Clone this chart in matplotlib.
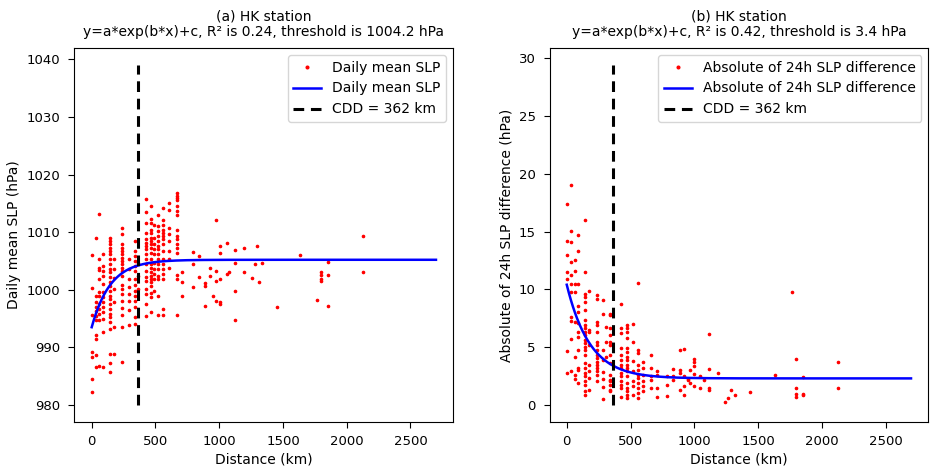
import numpy as np
import matplotlib
matplotlib.use("Agg")
import matplotlib.pyplot as plt

# ---------------- data ----------------
# Panel (a): distance (km) vs daily mean SLP (hPa)
dist_a = ([0]*7 + [31]*11 + [61]*12 + [92]*13 + [140]*25 + [172]*7 + [235]*20 + [291]*8
          + [338]*14 + [362]*3 + [426]*18 + [463]*21 + [489]*10 + [521]*15 + [563]*16 + [608]*8
          + [669]*16 + [706]*3 + [793]*3 + [841]*2 + [891]*3 + [926]*2 + [955] + [973]*4
          + [1005]*5 + [1063]*2 + [1079] + [1127]*4 + [1196]*2 + [1256] + [1283] + [1296]
          + [1309] + [1336] + [1450] + [1630] + [1765] + [1795]*4 + [1855]*3 + [2130]*2)
slp_a = [
    1005.98, 1000.25, 995.55, 989.24, 988.38, 984.43, 982.25,
    1008.90, 998.99, 997.95, 997.09, 996.23, 995.43, 994.69, 992.22, 991.42, 988.67, 986.55,
    1013.14, 1005.29, 1003.86, 1003.45, 1001.85, 999.56, 998.99, 997.55, 996.69, 995.83, 994.69, 986.84,
    1006.15, 1004.14, 1003.28, 1002.42, 1000.99, 999.56, 998.70, 997.84, 996.98, 996.12, 994.97, 992.68, 986.67,
    1009.01, 1008.44, 1007.87, 1007.29, 1006.72, 1006.15, 1005.29, 1004.43, 1003.57, 1003.00, 1002.14, 1001.28,
    1000.70, 999.84, 998.99, 998.41, 997.55, 996.69, 995.83, 995.26, 994.40, 993.25, 988.79, 987.24, 985.81,
    1005.29, 1003.57, 1001.96, 1000.13, 997.84, 993.54, 988.79,
    1010.73, 1009.76, 1007.87, 1007.29, 1006.72, 1006.15, 1005.58, 1005.00, 1004.43, 1003.86, 1003.28, 1002.42,
    1000.82, 1000.13, 999.27, 998.13, 996.81, 995.55, 993.54, 987.41,
    1005.29, 1003.57, 1001.85, 1000.42, 999.27, 998.13, 996.41, 993.83,
    1008.38, 1006.72, 1005.86, 1005.00, 1004.14, 1003.28, 1001.85, 1000.82, 999.84, 998.99, 998.13, 996.98,
    995.26, 994.00,
    1004.72, 1002.42, 1000.13,
    1015.77, 1013.42, 1011.59, 1009.87, 1008.73, 1008.15, 1007.58, 1007.01, 1006.15, 1005.29, 1004.43, 1003.28,
    1002.14, 1001.56, 1000.13, 999.27, 997.55, 995.43,
    1014.57, 1012.28, 1011.59, 1010.45, 1009.87, 1009.01, 1008.44, 1007.87, 1007.29, 1006.43, 1005.29, 1004.43,
    1003.86, 1003.00, 1002.42, 1001.85, 1001.28, 1000.70, 999.44, 998.70, 996.12,
    1011.30, 1009.01, 1007.87, 1007.01, 1006.15, 1004.72, 1003.57, 1002.71, 1001.85, 999.84,
    1013.02, 1011.02, 1010.16, 1009.30, 1008.44, 1007.58, 1007.01, 1006.15, 1005.29, 1004.43, 1003.57, 1002.42,
    1001.85, 998.99, 995.55,
    1014.17, 1012.16, 1011.30, 1010.45, 1009.87, 1009.30, 1008.73, 1007.87, 1006.72, 1005.29, 1004.43, 1003.57,
    1002.71, 1001.85, 996.69, 995.66,
    1015.03, 1013.88, 1010.73, 1009.59, 1008.44, 1006.72, 1005.29, 1003.86,
    1016.75, 1016.29, 1015.89, 1015.49, 1014.57, 1013.60, 1013.02, 1010.45, 1009.30, 1008.73, 1007.87, 1007.29,
    1006.43, 1002.59, 1001.85, 995.55,
    1003.00, 1001.28, 998.87,
    1006.61, 1004.43, 1000.53,
    1005.86, 1002.14,
    1001.16, 1000.70, 997.15,
    1003.86, 1002.31,
    998.99,
    1012.16, 1003.34, 1001.56, 998.01,
    1007.58, 1006.43, 1001.85, 997.84, 997.55,
    1008.15, 1002.71,
    1003.00,
    1006.84, 1004.72, 999.73, 994.80,
    1007.29, 1003.11,
    1001.96, 1004.43, 1007.58, 1001.28, 1004.60, 996.98,
    1006.1, 998.3,
    1003.0, 1002.6, 1001.9, 1001.6,
    1004.8, 1002.5, 997.2,
    1009.3, 1003.0,
]

# Panel (b): distance (km) vs absolute 24h SLP difference (hPa)
dist_b = ([0]*7 + [34]*11 + [65]*8 + [92]*12 + [144]*24 + [175]*8 + [235]*16 + [287]*8 + [305]*3
          + [340]*14 + [423]*14 + [470]*17 + [517]*7 + [562]*11 + [601]*6 + [658]*5 + [706]*4
          + [784]*3 + [836]*3 + [889]*4 + [920]*4 + [954]*2 + [967]*2 + [998]*5 + [1045]*2 + [1077]
          + [1119]*4 + [1184] + [1242] + [1268] + [1286] + [1320] + [1438] + [1630] + [1765]
          + [1795]*4 + [1855]*3 + [2130]*2)
dslp_b = [
    17.37, 14.22, 13.00, 11.50, 10.87, 4.67, 2.75,
    19.03, 15.02, 14.13, 12.36, 11.21, 10.49, 9.78, 7.63, 7.25, 5.71, 2.90,
    12.50, 11.58, 10.49, 9.78, 7.20, 4.19, 2.61, 2.27,
    14.71, 13.36, 10.49, 8.54, 8.00, 7.05, 6.34, 5.91, 4.76, 3.18, 3.04, 1.89,
    16.00, 11.50, 9.63, 9.35, 8.92, 8.20, 7.34, 6.91, 6.62, 6.34, 6.05, 5.62, 5.33, 5.05, 4.76, 4.33,
    3.61, 3.18, 2.75, 2.47, 2.04, 1.75, 1.18, 0.89,
    9.86, 6.48, 6.34, 5.19, 3.47, 2.90, 2.32, 1.32,
    9.49, 9.20, 7.20, 6.91, 6.34, 5.48, 5.19, 4.76, 4.33, 4.04, 3.76, 3.47, 3.18, 2.90, 2.61, 2.04,
    9.06, 7.91, 4.76, 3.90, 2.84, 2.24, 1.55, 0.55,
    6.77, 5.48, 4.19,
    7.91, 7.77, 6.62, 6.05, 5.48, 5.19, 4.33, 3.61, 2.61, 2.18, 2.04, 1.75, 1.32, 1.18,
    8.77, 6.62, 6.19, 4.90, 4.33, 3.90, 3.47, 3.18, 2.75, 2.47, 2.04, 1.75, 1.46, 0.66,
    6.91, 6.62, 6.34, 5.76, 4.90, 4.62, 4.19, 3.90, 3.47, 3.18, 2.90, 2.47, 1.89, 1.46, 1.18, 0.89, 0.60,
    6.97, 5.48, 3.81, 2.90, 2.04, 1.61, 0.89,
    10.58, 4.76, 4.47, 3.47, 3.04, 2.61, 2.32, 1.89, 1.46, 1.03, 0.60,
    3.76, 3.18, 2.61, 2.04, 1.61, 1.18,
    4.33, 3.18, 2.47, 2.18, 1.46,
    2.95, 2.61, 1.46, 0.66,
    2.47, 1.75, 0.75,
    3.10, 2.47, 2.12,
    4.76, 3.04, 2.75, 1.32,
    4.85, 2.47, 1.61, 0.89,
    2.24, 2.12,
    3.04, 1.89,
    3.99, 3.76, 3.38, 2.70, 1.61,
    2.47, 1.46,
    2.12,
    6.11, 3.13, 1.46, 1.32,
    2.75, 0.23, 0.60, 1.32, 0.89, 1.12,
    2.58, 9.74,
    3.96, 1.46, 0.97, 0.66,
    2.44, 0.95, 0.83,
    3.70, 1.49,
]

# fitted curve parameters y = a*exp(b*x)+c
fit_a = (-11.7, -0.0068, 1005.2)
fit_b = (8.1, -0.0055, 2.3)
fit_xmax = 2700
cdd = 362
vline_a = (980, 1039)
vline_b = (0, 29.4)

titles = ["(a) HK station\ny=a*exp(b*x)+c, R\u00b2 is 0.24, threshold is 1004.2 hPa",
          "(b) HK station\ny=a*exp(b*x)+c, R\u00b2 is 0.42, threshold is 3.4 hPa"]
ylabels = ["Daily mean SLP (hPa)", "Absolute of 24h SLP difference (hPa)"]
series_names = ["Daily mean SLP", "Absolute of 24h SLP difference"]
yticks_a = [980, 990, 1000, 1010, 1020, 1030, 1040]
yticks_b = [0, 5, 10, 15, 20, 25, 30]
xticks = [0, 500, 1000, 1500, 2000, 2500]

# ---------------- plot ----------------
plt.rcParams['font.family'] = ['DejaVu Sans']
fs = 10
fig = plt.figure(figsize=(9.3, 4.68), dpi=100)
ax1 = fig.add_axes([0.0801, 0.0983, 0.4072, 0.7991])
ax2 = fig.add_axes([0.5909, 0.0983, 0.4072, 0.7991])

xfit = np.linspace(0, fit_xmax, 500)
panels = [(ax1, dist_a, slp_a, fit_a, vline_a, yticks_a),
          (ax2, dist_b, dslp_b, fit_b, vline_b, yticks_b)]
for i, (ax, xs, ys, (pa, pb, pc), (v0, v1), yt) in enumerate(panels):
    ax.plot(xs, ys, 'o', color='red', markersize=1.6, linestyle='none', label=series_names[i])
    ax.plot(xfit, pa*np.exp(pb*xfit)+pc, color='blue', lw=1.8, label=series_names[i])
    ax.plot([cdd, cdd], [v0, v1], color='black', lw=2.2, ls=(0, (3.5, 2.2)), label='CDD = %d km' % cdd)
    ax.set_xticks(xticks)
    ax.set_yticks(yt)
    ax.tick_params(labelsize=9.5, length=4)
    ax.tick_params(axis='x', pad=5.5)
    ax.tick_params(axis='y', pad=6)
    ax.set_xlabel('Distance (km)', fontsize=fs, labelpad=3)
    ax.set_ylabel(ylabels[i], fontsize=fs, labelpad=4)
    ax.set_title(titles[i], fontsize=fs, linespacing=1.1, pad=9)
    ax.legend(loc='upper right', fontsize=fs, markerscale=1.2)

fig.savefig('out.png', dpi=100)
